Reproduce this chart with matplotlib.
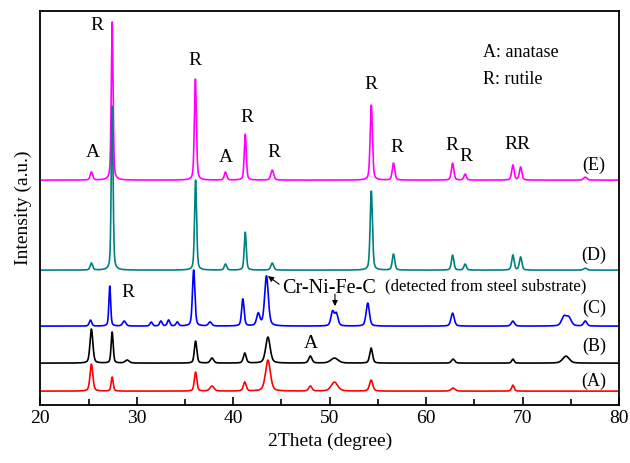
import matplotlib.pyplot as plt
import numpy as np

plt.rcParams['font.family'] = ['Liberation Serif', 'DejaVu Serif']

two_theta = np.arange(20, 80.001, 0.02)

# peak lists: position (deg), height, fwhm (deg)
pos_E = [25.3, 27.45, 36.08, 39.2, 41.25, 44.05, 54.32, 56.62, 62.75, 64.05, 69.0, 69.8, 76.5]
hgt_E = [8, 159, 101, 8, 46, 10, 75, 17, 17, 6, 15, 13, 3]
wid_E = [0.3, 0.22, 0.25, 0.3, 0.25, 0.35, 0.28, 0.3, 0.3, 0.3, 0.3, 0.3, 0.4]

pos_D = [25.3, 27.45, 36.1, 39.2, 41.25, 44.05, 54.32, 56.62, 62.75, 64.05, 69.0, 69.8, 76.5]
hgt_D = [7, 165, 90, 6, 38, 7, 79, 16, 15, 6, 15, 13, 2]
wid_D = [0.3, 0.22, 0.25, 0.3, 0.25, 0.35, 0.28, 0.3, 0.3, 0.3, 0.3, 0.3, 0.4]

pos_C = [25.2, 27.2, 28.7, 31.5, 32.5, 33.3, 34.2, 35.9, 37.6, 41.0, 42.6, 43.45,
         50.3, 50.7, 53.95, 62.75, 69.0, 74.3, 74.8, 76.5]
hgt_C = [6, 40, 5, 4, 5, 6, 4, 56, 4, 27, 12, 50, 14, 12, 23, 13, 5, 9, 8, 5]
wid_C = [0.3, 0.22, 0.4, 0.3, 0.3, 0.3, 0.3, 0.3, 0.4, 0.3, 0.4, 0.45,
         0.4, 0.4, 0.4, 0.4, 0.4, 0.6, 0.6, 0.4]

pos_B = [25.3, 27.45, 29.0, 36.1, 37.8, 41.2, 43.6, 48.0, 50.5, 54.3, 62.8, 69.0, 74.5]
hgt_B = [34, 31, 3, 22, 5, 10, 26, 7, 5, 15, 4, 4, 7]
wid_B = [0.35, 0.25, 0.5, 0.3, 0.4, 0.35, 0.55, 0.4, 0.9, 0.35, 0.4, 0.3, 0.8]

pos_A = [25.3, 27.45, 36.1, 37.8, 41.2, 43.6, 48.0, 50.5, 54.3, 62.8, 69.0]
hgt_A = [27, 14, 19, 5, 9, 31, 5, 9, 11, 3, 6]
wid_A = [0.35, 0.25, 0.3, 0.5, 0.35, 0.6, 0.4, 0.8, 0.4, 0.5, 0.3]

offsets = {'E': 225, 'D': 135, 'C': 79, 'B': 42, 'A': 14}
colors = {'E': '#ff00ff', 'D': '#008080', 'C': '#0000ff', 'B': '#000000', 'A': '#ff0000'}


def pattern(pos, hgt, wid):
    y = np.zeros_like(two_theta)
    for p, h, w in zip(pos, hgt, wid):
        g = np.exp(-4 * np.log(2) * ((two_theta - p) / w) ** 2)
        l = 1 / (1 + ((two_theta - p) / (w / 2)) ** 2)
        y += h * (0.6 * g + 0.4 * l)
    return y


fig = plt.figure(figsize=(6.3, 4.63), dpi=100)
ax = fig.add_axes([0.064, 0.125, 0.9185, 0.851])

series = {'E': (pos_E, hgt_E, wid_E), 'D': (pos_D, hgt_D, wid_D), 'C': (pos_C, hgt_C, wid_C),
          'B': (pos_B, hgt_B, wid_B), 'A': (pos_A, hgt_A, wid_A)}
for k in ['E', 'D', 'C', 'B', 'A']:
    ax.plot(two_theta, pattern(*series[k]) + offsets[k], color=colors[k], lw=1.2)

ax.set_xlim(20, 80)
ax.set_ylim(0, 394)
ax.set_yticks([])
ax.set_xticks(np.arange(20, 81, 10))
ax.set_xticks(np.arange(25, 80, 10), minor=True)
ax.tick_params(axis='x', which='both', direction='in', top=False, labelsize=14, width=1.2)
ax.tick_params(axis='x', which='major', length=6)
ax.tick_params(axis='x', which='minor', length=4)
for s in ax.spines.values():
    s.set_linewidth(1.3)
ax.set_xlabel('2Theta (degree)', fontsize=14)
ax.set_ylabel('Intensity (a.u.)', fontsize=14, labelpad=6)

# phase labels
lab_x = [25.86, 25.45, 36.0, 39.2, 41.4, 44.2, 54.3, 57.0, 62.7, 64.15, 69.5, 29.1, 48.05]
lab_y = [380, 253, 345, 248, 288, 253, 321, 258, 260, 249, 261, 113, 62]
lab_t = ['R', 'A', 'R', 'A', 'R', 'R', 'R', 'R', 'R', 'R', 'RR', 'R', 'A']
for x, y, t in zip(lab_x, lab_y, lab_t):
    ax.text(x, y, t, fontsize=14, ha='center', va='center')

ax.text(65.9, 353, 'A: anatase', fontsize=13, ha='left', va='center')
ax.text(65.9, 326, 'R: rutile', fontsize=13, ha='left', va='center')

for k, y in zip(['E', 'D', 'C', 'B', 'A'], [240, 150, 97, 59, 24]):
    ax.text(77.4, y, '(%s)' % k, fontsize=13, ha='center', va='center')

ax.annotate('Cr-Ni-Fe-C', xy=(43.6, 129), xytext=(45.05, 117), fontsize=14.5,
            ha='left', va='center',
            arrowprops=dict(arrowstyle='-|>', color='black', lw=0.8, mutation_scale=8,
                            shrinkA=0, shrinkB=0, relpos=(0, 0.6)))
ax.text(55.7, 119, '(detected from steel substrate)', fontsize=12, ha='left', va='center')
ax.annotate('', xy=(50.55, 99), xytext=(50.55, 111),
            arrowprops=dict(arrowstyle='-|>', color='black', lw=0.8, mutation_scale=8,
                            shrinkA=0, shrinkB=0))

fig.savefig('out.png', dpi=100)
